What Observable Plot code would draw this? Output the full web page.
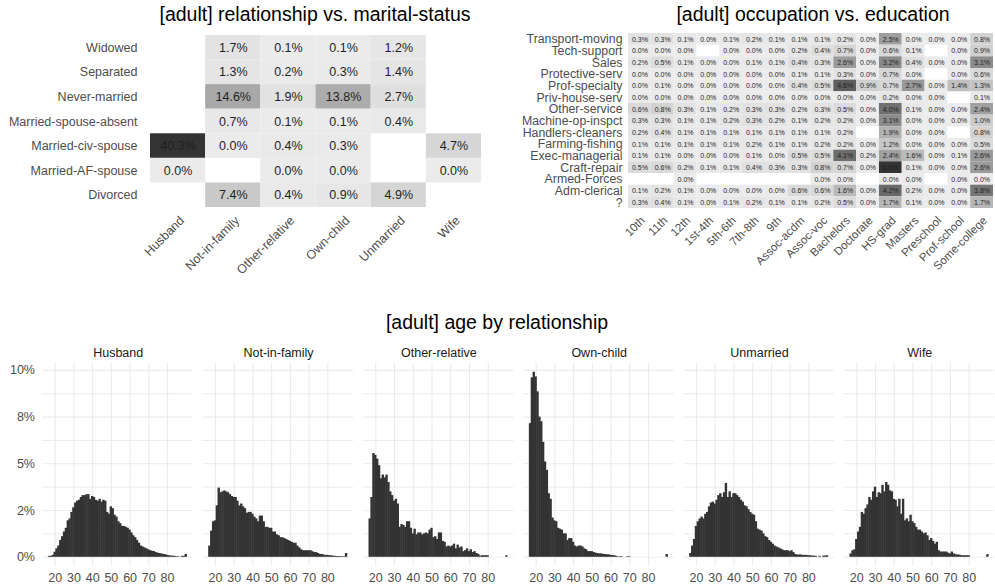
<!DOCTYPE html>
<html><head><meta charset="utf-8">
<script src="https://cdn.jsdelivr.net/npm/d3@7"></script>
<script src="https://cdn.jsdelivr.net/npm/@observablehq/plot@0.6"></script>
<style>
body{margin:0;background:#fff;font-family:"Liberation Sans",Arial,sans-serif;}
#wrap{position:relative;width:995px;height:586px;overflow:hidden;background:#fff;}
.t{position:absolute;font-size:19.5px;color:#000;white-space:nowrap;transform:translateX(-50%);line-height:1;}
.p{position:absolute;}
</style></head><body>
<div id="wrap">
<div class="t" style="left:315px;top:4.5px">[adult] relationship vs. marital-status</div>
<div class="t" style="left:813px;top:4.5px">[adult] occupation vs. education</div>
<div class="t" style="left:497px;top:313px">[adult] age by relationship</div>
<div class="p" id="p1" style="left:0;top:0"></div>
<div class="p" id="p2" style="left:500px;top:0"></div>
<div class="p" id="p3" style="left:0;top:336px"></div>
</div>
<script>
// ---------- relationship vs marital-status ----------
const relationships = ["Husband","Not-in-family","Other-relative","Own-child","Unmarried","Wife"];
const maritalStatuses = ["Widowed","Separated","Never-married","Married-spouse-absent","Married-civ-spouse","Married-AF-spouse","Divorced"];
const widowed            = [null, 1.7, 0.1, 0.1, 1.2, null];
const separated          = [null, 1.3, 0.2, 0.3, 1.4, null];
const neverMarried       = [null, 14.6, 1.9, 13.8, 2.7, null];
const marriedSpouseAbs   = [null, 0.7, 0.1, 0.1, 0.4, null];
const marriedCivSpouse   = [40.3, 0.0, 0.4, 0.3, null, 4.7];
const marriedAFSpouse    = [0.0, null, 0.0, 0.0, null, 0.0];
const divorced           = [null, 7.4, 0.4, 0.9, 4.9, null];
const maritalRows = [widowed, separated, neverMarried, marriedSpouseAbs, marriedCivSpouse, marriedAFSpouse, divorced];

// ---------- occupation vs education ----------
const educations = ["10th","11th","12th","1st-4th","5th-6th","7th-8th","9th","Assoc-acdm","Assoc-voc","Bachelors","Doctorate","HS-grad","Masters","Preschool","Prof-school","Some-college"];
const occupations = ["Transport-moving","Tech-support","Sales","Protective-serv","Prof-specialty","Priv-house-serv","Other-service","Machine-op-inspct","Handlers-cleaners","Farming-fishing","Exec-managerial","Craft-repair","Armed-Forces","Adm-clerical","?"];
const transportMoving = [0.3,0.3,0.1,0.0,0.1,0.2,0.1,0.1,0.1,0.2,0.0,2.5,0.0,0.0,0.0,0.8];
const techSupport     = [0.0,0.0,0.0,null,0.0,0.0,0.0,0.2,0.4,0.7,0.0,0.6,0.1,null,0.0,0.9];
const sales           = [0.2,0.5,0.1,0.0,0.0,0.1,0.1,0.4,0.3,2.6,0.0,3.2,0.4,0.0,0.0,3.1];
const protectiveServ  = [0.0,0.0,0.0,0.0,0.0,0.0,0.0,0.1,0.1,0.3,0.0,0.7,0.0,null,0.0,0.6];
const profSpecialty   = [0.0,0.1,0.0,0.0,0.0,0.0,0.0,0.4,0.5,4.6,0.9,0.7,2.7,0.0,1.4,1.3];
const privHouseServ   = [0.0,0.0,0.0,0.0,0.0,0.0,0.0,0.0,0.0,0.0,0.0,0.2,0.0,0.0,null,0.1];
const otherService    = [0.6,0.8,0.3,0.1,0.2,0.3,0.3,0.2,0.3,0.5,0.0,4.0,0.1,0.0,0.0,2.4];
const machineOpInspct = [0.3,0.3,0.1,0.1,0.2,0.3,0.2,0.1,0.2,0.2,0.0,3.1,0.0,0.0,0.0,1.0];
const handlersCleaners= [0.2,0.4,0.1,0.1,0.1,0.1,0.1,0.1,0.1,0.2,null,1.9,0.0,0.0,null,0.8];
const farmingFishing  = [0.1,0.1,0.1,0.1,0.1,0.2,0.1,0.1,0.2,0.2,0.0,1.2,0.0,0.0,0.0,0.5];
const execManagerial  = [0.1,0.1,0.0,0.0,0.0,0.1,0.0,0.5,0.5,4.1,0.2,2.4,1.6,0.0,0.1,2.6];
const craftRepair     = [0.5,0.6,0.2,0.1,0.1,0.4,0.3,0.3,0.8,0.7,0.0,6.0,0.1,0.0,0.0,2.6];
const armedForces     = [null,null,0.0,null,null,null,null,null,0.0,0.0,null,0.0,0.0,null,0.0,0.0];
const admClerical     = [0.1,0.2,0.1,0.0,0.0,0.0,0.0,0.6,0.6,1.6,0.0,4.2,0.2,0.0,0.0,3.8];
const unknownOcc      = [0.3,0.4,0.1,0.0,0.1,0.2,0.1,0.1,0.2,0.5,0.0,1.7,0.1,0.0,0.0,1.7];
const occupationRows = [transportMoving,techSupport,sales,protectiveServ,profSpecialty,privHouseServ,otherService,machineOpInspct,handlersCleaners,farmingFishing,execManagerial,craftRepair,armedForces,admClerical,unknownOcc];

// ---------- age by relationship (share of group, %, ages 17..90) ----------
const firstAge = 17;
const husbandAge = [0.05,0.05,0.1,0.27,0.45,0.6,0.9,1.1,1.35,1.55,1.95,2.05,2.4,2.65,2.9,3.0,3.05,3.2,3.3,3.3,3.35,3.35,3.1,3.25,3.2,3.05,3.0,3.1,2.95,3.05,3.0,2.4,2.3,2.7,2.6,2.25,2.15,1.9,1.8,1.65,1.65,1.6,1.55,1.45,1.3,1.15,1.05,0.9,0.75,0.6,0.55,0.5,0.45,0.4,0.35,0.32,0.3,0.25,0.22,0.2,0.18,0.15,0.14,0.1,0.08,0.06,0.06,0.05,0.03,0.03,0,0.05,0.05,0.15];
const notInFamilyAge = [0.6,1.4,1.9,1.95,2.75,3.7,3.45,3.5,3.55,3.5,3.45,3.35,3.25,3.2,3.2,3.0,2.75,2.85,2.7,2.6,2.35,2.4,2.4,2.3,2.15,2.05,1.9,2.2,2.2,1.9,1.6,1.6,1.55,1.55,1.35,1.35,1.2,1.15,1.05,1.05,1.0,0.95,0.9,0.85,0.8,0.75,0.75,0.6,0.5,0.4,0.35,0.35,0.35,0.35,0.35,0.3,0.25,0.25,0.2,0.15,0.15,0.12,0.1,0.1,0.08,0.08,0.06,0.05,0.04,0.04,0.03,0.03,0.03,0.2];
const otherRelativeAge = [2.05,3.2,5.55,5.45,5.25,4.9,4.2,4.4,4.25,4.4,4.0,3.5,3.3,3.0,3.1,2.85,1.6,1.75,1.7,1.6,1.9,1.9,1.55,1.25,1.5,1.2,1.3,1.3,1.2,1.25,1.3,1.25,1.45,1.55,1.05,1.1,0.95,1.3,1.3,0.85,0.8,0.55,0.6,0.55,0.6,0.7,0.45,0.65,0.5,0.55,0.3,0.35,0.45,0.3,0.4,0.25,0.3,0.2,0.15,0.05,0.08,0.08,0.08,0.08,0,0,0,0,0,0,0,0,0,0.08];
const ownChildAge = [7.15,9.6,9.9,9.65,8.85,7.5,7.25,6.15,5.1,4.65,3.4,3.1,2.1,1.95,1.9,1.55,1.5,1.45,1.25,1.25,0.9,1.0,1.0,0.8,0.6,0.55,0.6,0.6,0.55,0.45,0.4,0.3,0.3,0.3,0.25,0.22,0.2,0.18,0.18,0.15,0.15,0.13,0.13,0.1,0.1,0.08,0.05,0.02,0.03,0.03,0,0,0.03,0.03,0,0,0,0,0,0,0,0,0,0,0,0,0,0,0,0,0,0,0,0.15];
const unmarriedAge = [0.2,0.6,0.95,1.65,1.9,2.05,2.15,2.05,2.3,2.4,2.7,2.9,2.95,2.85,3.05,3.3,3.4,3.2,3.45,3.95,3.2,3.5,3.2,3.4,3.4,3.3,3.2,3.05,2.95,2.75,2.7,2.55,2.4,2.3,2.25,1.9,1.5,1.45,1.4,1.25,1.1,1.05,0.9,0.8,0.7,0.6,0.55,0.5,0.45,0.4,0.35,0.35,0.35,0.3,0.35,0.25,0.15,0.12,0.12,0.12,0.1,0.1,0.1,0.08,0.08,0.06,0.06,0.05,0,0.05,0,0.06,0.06,0.08];
const wifeAge = [0.18,0.35,0.4,0.95,1.35,1.6,2.4,2.3,2.6,2.8,3.2,3.05,3.5,3.75,3.2,3.45,3.4,3.85,3.5,4.0,3.85,3.55,3.5,3.1,3.05,2.7,3.1,2.3,3.1,1.95,2.05,1.9,2.25,1.9,1.8,1.6,1.45,1.45,1.35,1.25,1.3,1.15,0.9,1.0,0.85,0.7,0.8,0.35,0.28,0.28,0.28,0.28,0.22,0.18,0.28,0.18,0.14,0.12,0.12,0.08,0.08,0.08,0.08,0.08,0,0,0,0,0,0,0,0,0,0.14];
const ageShares = [husbandAge, notInFamilyAge, otherRelativeAge, ownChildAge, unmarriedAge, wifeAge];
const xTicks = [20,30,40,50,60,70,80];
const yTicks = [0,2.5,5,7.5,10];
const yTickLabels = ["0%","2%","5%","8%","10%"];
const yMinor = [1.25,3.75,6.25,8.75];

const FONT = "Liberation Sans, Arial, sans-serif";
const AXIS = "#4d4d4d";

// ---- plot 1 ----
const rel = [];
maritalRows.forEach((row, i) => row.forEach((v, j) => { if (v !== null) rel.push({rel: relationships[j], ms: maritalStatuses[i], v}); }));
const p1 = Plot.plot({
  width: 500, height: 290,
  marginLeft: 150, marginRight: 19, marginTop: 35, marginBottom: 83,
  style: {fontFamily: FONT, fontSize: "12px", color: AXIS, background: "transparent"},
  x: {domain: relationships, padding: 0, round: false, label: null},
  y: {domain: maritalStatuses, padding: 0, round: false, label: null},
  color: {type: "linear", domain: [0, 40.3], range: ["#ebebeb", "#333333"], interpolate: "rgb"},
  marks: [
    Plot.cell(rel, {x: "rel", y: "ms", fill: "v", inset: 0}),
    Plot.text(rel, {x: "rel", y: "ms", text: d => d.v.toFixed(1) + "%", fill: "#1f1f1f", fontSize: 12.5}),
    Plot.axisX({tickRotate: -45, tickSize: 0, tickPadding: 8, dx: 4, dy: 3, fontSize: 12.5, label: null}),
    Plot.axisY({tickSize: 0, tickPadding: 13, fontSize: 12.5, label: null})
  ]
});
document.getElementById("p1").append(p1);

// ---- plot 2 ----
const occ = [];
occupationRows.forEach((row, i) => row.forEach((v, j) => { if (v !== null) occ.push({edu: educations[j], occ: occupations[i], v}); }));
const p2 = Plot.plot({
  width: 495, height: 300,
  marginLeft: 128, marginRight: 2, marginTop: 33, marginBottom: 92,
  style: {fontFamily: FONT, fontSize: "12px", color: AXIS, background: "transparent"},
  x: {domain: educations, padding: 0, round: false, label: null},
  y: {domain: occupations, padding: 0, round: false, label: null},
  color: {type: "linear", domain: [0, 6.0], range: ["#ebebeb", "#333333"], interpolate: "rgb"},
  marks: [
    Plot.cell(occ, {x: "edu", y: "occ", fill: "v", inset: 0}),
    Plot.text(occ, {x: "edu", y: "occ", text: d => d.v.toFixed(1) + "%", fill: "#1f1f1f", fontSize: 7}),
    Plot.axisX({tickRotate: -45, tickSize: 0, tickPadding: 8, dx: 3, dy: 2, fontSize: 11.5, label: null}),
    Plot.axisY({tickSize: 0, tickPadding: 6, fontSize: 12.3, label: null})
  ]
});
document.getElementById("p2").append(p2);

// ---- plot 3 ----
const hist = [];
ageShares.forEach((arr, i) => arr.forEach((v, j) => { if (v > 0) hist.push({rel: relationships[i], age: firstAge + j, pct: v}); }));
const p3 = Plot.plot({
  width: 995, height: 250,
  marginLeft: 42.5, marginRight: 0.5, marginTop: 26.5, marginBottom: 20,
  style: {fontFamily: FONT, fontSize: "12px", color: AXIS, background: "transparent"},
  fx: {domain: relationships, paddingInner: 0.062, paddingOuter: 0, round: false, label: null},
  x: {domain: [13.5, 93.8], label: null},
  y: {domain: [-0.495, 10.395], label: null},
  marks: [
    Plot.ruleY(yMinor, {stroke: "#ebebeb", strokeWidth: 1}),
    Plot.ruleY(yTicks, {stroke: "#ebebeb", strokeWidth: 1.1}),
    Plot.ruleX(xTicks, {stroke: "#ebebeb", strokeWidth: 1.1}),
    Plot.rectY(hist, {fx: "rel", x1: d => d.age - 0.5, x2: d => d.age + 0.5, y: "pct", fill: "#333333", insetLeft: -0.25, insetRight: -0.25}),
    Plot.axisFx({anchor: "top", tickSize: 0, tickPadding: 6, fontSize: 12.5, fill: "#1a1a1a", label: null}),
    Plot.axisX({ticks: xTicks, tickSize: 0, tickPadding: 7, fontSize: 12.5, label: null}),
    Plot.axisY({ticks: yTicks, tickFormat: d => yTickLabels[yTicks.indexOf(d)], tickSize: 0, tickPadding: 8, fontSize: 12.5, label: null})
  ]
});
document.getElementById("p3").append(p3);
</script>
</body></html>
